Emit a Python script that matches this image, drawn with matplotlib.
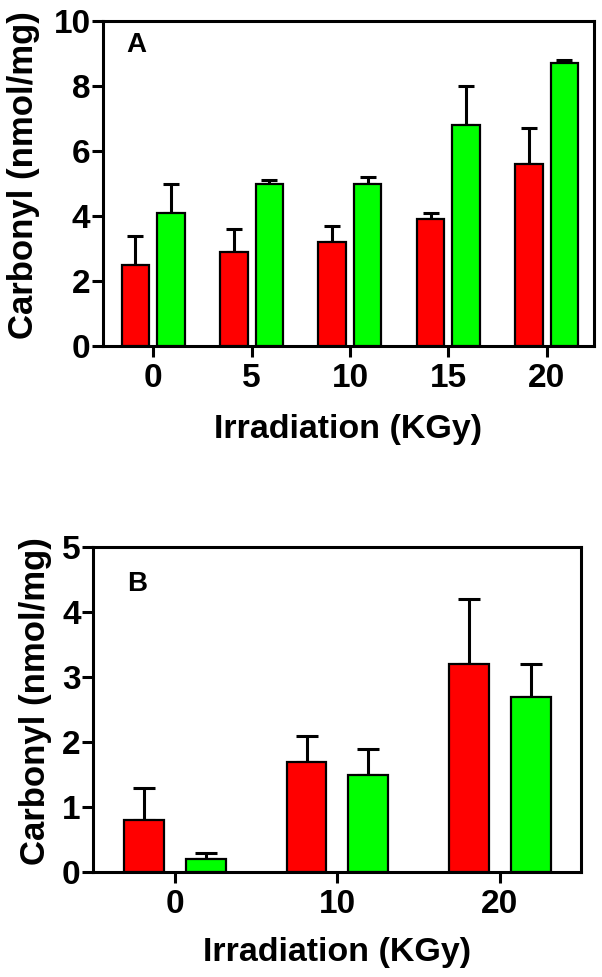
import numpy as np
import matplotlib
matplotlib.use("Agg")
import matplotlib.pyplot as plt

plt.rcParams['font.family'] = ['Liberation Sans', 'DejaVu Sans']
plt.rcParams['font.weight'] = 'bold'

# Panel A data
doses_a = ["0", "5", "10", "15", "20"]
red_a = [2.5, 2.9, 3.2, 3.9, 5.6]
red_a_err = [0.9, 0.7, 0.5, 0.2, 1.1]
green_a = [4.1, 5.0, 5.0, 6.8, 8.7]
green_a_err = [0.9, 0.1, 0.2, 1.2, 0.1]

# Panel B data
doses_b = ["0", "10", "20"]
red_b = [0.8, 1.7, 3.2]
red_b_err = [0.5, 0.4, 1.0]
green_b = [0.2, 1.5, 2.7]
green_b_err = [0.1, 0.4, 0.5]

ylabel = "Carbonyl (nmol/mg)"
xlabel = "Irradiation (KGy)"

RED = "#FF0000"
GREEN = "#00FF00"

fig = plt.figure(figsize=(6.02, 9.77), dpi=100)

def panel(rect, cats, red, red_err, green, green_err, off, width, ymax, yticks,
          xlim, capsize, letter, letter_xy, ylab_x, xlab_y):
    ax = fig.add_axes(rect)
    x = np.arange(len(cats))
    for vals, errs, sign, col in [(red, red_err, -1, RED), (green, green_err, 1, GREEN)]:
        ax.bar(x + sign * off, vals, width=width, color=col, edgecolor='black',
               linewidth=1.6, zorder=3)
        ax.errorbar(x + sign * off, vals, yerr=[np.zeros(len(vals)), errs],
                    fmt='none', ecolor='black', elinewidth=2.2, capsize=capsize,
                    capthick=2.2, zorder=2)
    ax.set_xlim(*xlim)
    ax.set_ylim(0, ymax)
    ax.set_xticks(x)
    ax.set_xticklabels(cats)
    ax.set_yticks(yticks)
    for s in ax.spines.values():
        s.set_linewidth(2.2)
    ax.tick_params(axis='both', length=8, width=2.2, labelsize=24, direction='out')
    ax.tick_params(axis='x', pad=4)
    ax.tick_params(axis='y', pad=1)
    for lab in ax.get_xticklabels() + ax.get_yticklabels():
        lab.set_fontweight('bold')
    ax.set_ylabel(ylabel, fontsize=25, fontweight='bold')
    ax.set_xlabel(xlabel, fontsize=24.5, fontweight='bold')
    ax.yaxis.set_label_coords(ylab_x, 0.525)
    ax.xaxis.set_label_coords(0.5, xlab_y)
    ax.text(letter_xy[0], letter_xy[1], letter, transform=ax.transAxes,
            fontsize=20, fontweight='bold', ha='left', va='top')
    return ax

panel([103/602, 1 - 346/977, 491/602, 325/977], doses_a, red_a, red_a_err,
      green_a, green_a_err, off=0.18, width=0.28, ymax=10, yticks=[0, 2, 4, 6, 8, 10],
      xlim=(-0.51, 4.48), capsize=5.8, letter="A", letter_xy=(0.048, 0.965),
      ylab_x=-0.128, xlab_y=-0.21)

panel([93/602, 1 - 872/977, 488/602, 325/977], doses_b, red_b, red_b_err,
      green_b, green_b_err, off=0.19, width=0.245, ymax=5, yticks=[0, 1, 2, 3, 4, 5],
      xlim=(-0.505, 2.5), capsize=8, letter="B", letter_xy=(0.07, 0.925),
      ylab_x=-0.084, xlab_y=-0.2)

fig.savefig("out.png", dpi=100)
